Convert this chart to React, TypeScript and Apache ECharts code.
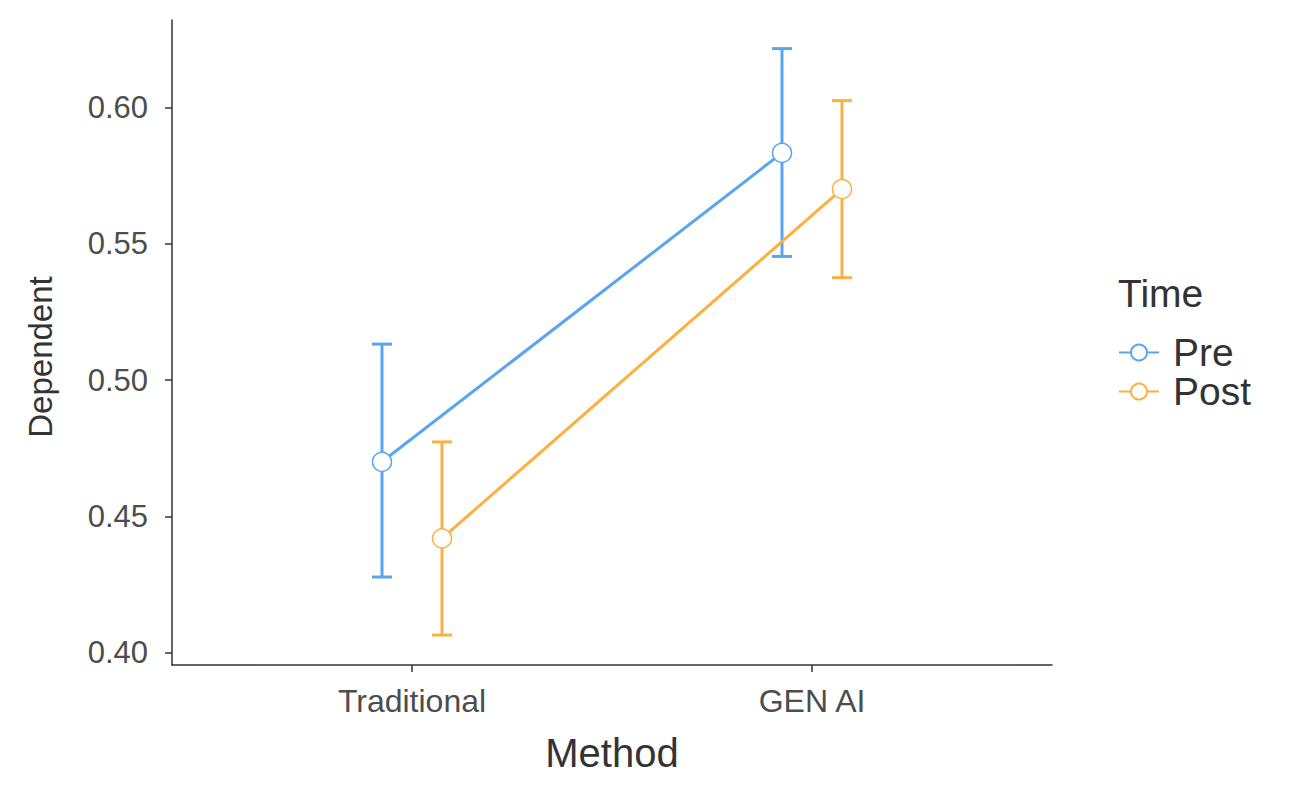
import React, { useEffect, useRef } from "react";
import * as echarts from "echarts";

const methods = ["Traditional", "GEN AI"];
const groups = ["Pre", "Post"];
const preMean = [0.47, 0.5834];
const preLower = [0.4277, 0.5454];
const preUpper = [0.5132, 0.6217];
const postMean = [0.4419, 0.5701];
const postLower = [0.4064, 0.5376];
const postUpper = [0.4773, 0.6026];
const yTicks = [0.4, 0.45, 0.5, 0.55, 0.6];
const dodge = [-0.075, 0.075];
const colors = ["#5aa5f0", "#fbb040"];

const FONT = "'Liberation Sans', Arial, sans-serif";

export default function App() {
  const ref = useRef<HTMLDivElement>(null);
  useEffect(() => {
    const chart = echarts.init(ref.current!, null, { renderer: "svg" });
    const means = [preMean, postMean];
    const lows = [preLower, postLower];
    const highs = [preUpper, postUpper];

    const errSeries = groups.map((g, gi) => ({
      type: "custom",
      name: g + " CI",
      z: 1,
      silent: true,
      data: methods.map((m, i) => [i + 1 + dodge[gi], lows[gi][i], highs[gi][i]]),
      renderItem: (params: any, api: any) => {
        const x = api.value(0);
        const lo = api.coord([x, api.value(1)]);
        const hi = api.coord([x, api.value(2)]);
        const half = 10;
        const style = { stroke: colors[gi], lineWidth: 3 };
        return {
          type: "group",
          children: [
            { type: "line", shape: { x1: lo[0], y1: lo[1], x2: hi[0], y2: hi[1] }, style },
            { type: "line", shape: { x1: lo[0] - half, y1: lo[1], x2: lo[0] + half, y2: lo[1] }, style },
            { type: "line", shape: { x1: hi[0] - half, y1: hi[1], x2: hi[0] + half, y2: hi[1] }, style },
          ],
        };
      },
    }));

    const lineSeries = groups.map((g, gi) => ({
      type: "line",
      name: g,
      z: 3,
      data: methods.map((m, i) => [i + 1 + dodge[gi], means[gi][i]]),
      symbol: "circle",
      symbolSize: 19,
      lineStyle: { color: colors[gi], width: 3 },
      itemStyle: { color: "#ffffff", borderColor: colors[gi], borderWidth: 1.5 },
    }));

    chart.setOption({
      animation: false,
      backgroundColor: "#ffffff",
      textStyle: { fontFamily: FONT },
      grid: { left: 172, right: 237, top: 20, bottom: 122, containLabel: false },
      xAxis: {
        type: "value",
        min: 0.4,
        max: 2.6,
        name: "Method",
        nameLocation: "middle",
        nameGap: 68,
        nameTextStyle: { fontSize: 40, color: "#333333", fontFamily: FONT },
        axisLine: { show: true, lineStyle: { color: "#333333", width: 1.5 } },
        axisTick: { show: true, length: 7, lineStyle: { color: "#333333", width: 1.5 }, customValues: [1, 2] },
        axisLabel: {
          customValues: [1, 2],
          formatter: (v: number) => methods[Math.round(v) - 1] ?? "",
          fontSize: 32,
          color: "#4d4d4d",
          margin: 20,
          fontFamily: FONT,
        },
        splitLine: { show: false },
      },
      yAxis: {
        type: "value",
        min: 0.3954,
        max: 0.6322,
        axisLine: { show: true, lineStyle: { color: "#333333", width: 1.5 } },
        axisTick: { show: true, length: 7, lineStyle: { color: "#333333", width: 1.5 }, customValues: yTicks },
        axisLabel: {
          customValues: yTicks,
          formatter: (v: number) => v.toFixed(2),
          fontSize: 31,
          color: "#4d4d4d",
          margin: 24,
          fontFamily: FONT,
        },
        splitLine: { show: false },
      },
      legend: {
        data: groups,
        orient: "vertical",
        left: 1113,
        top: 328,
        itemWidth: 40,
        itemHeight: 20,
        itemGap: 0,
        textStyle: { fontSize: 39, lineHeight: 37, color: "#333333", fontFamily: FONT, padding: [0, 0, 0, 9] },
      },
      graphic: [
        {
          type: "text",
          left: 1118,
          top: 274,
          style: { text: "Time", fontSize: 39, fill: "#333333", fontFamily: FONT },
        },
        {
          type: "text",
          x: 40,
          y: 357,
          rotation: Math.PI / 2,
          style: {
            text: "Dependent",
            fontSize: 33,
            fill: "#333333",
            fontFamily: FONT,
            align: "center",
            verticalAlign: "middle",
          },
        },
      ],
      series: [...errSeries, ...lineSeries],
    });
    return () => chart.dispose();
  }, []);
  return <div ref={ref} style={{ position: "fixed", left: 0, top: 0, width: 1289, height: 787 }} />;
}
